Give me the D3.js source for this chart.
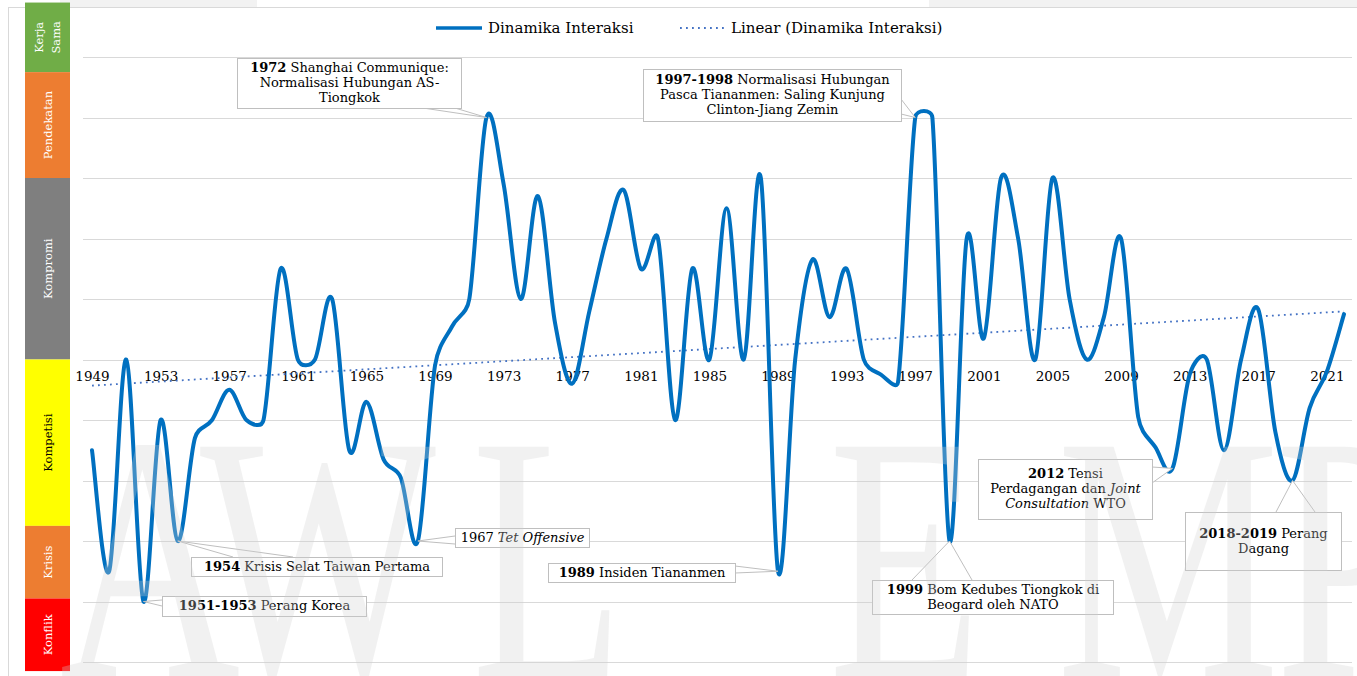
<!DOCTYPE html>
<html>
<head>
<meta charset="utf-8">
<script src="https://cdn.jsdelivr.net/npm/d3@7"></script>
<style>
  html, body { margin: 0; padding: 0; background: #fff; }
  svg { display: block; font-family: "DejaVu Serif", serif; }
</style>
</head>
<body>
<svg id="chart" width="1357" height="676"></svg>
<script>
// ---- data -------------------------------------------------------------
const years = d3.range(1949, 2023);
const interaction = [
  -1.5, -3.5, 0, -4, -1, -3, -1.3, -1, -0.5, -1,      // 1949-1958
  -1, 1.5, 0, 0, 1, -1.5, -0.7, -1.65, -1.95, -3,     // 1959-1968
  -0.1, 0.55, 1, 4, 2.9, 1, 2.7, 0.6, -0.4, 0.8,      // 1969-1978
  2, 2.8, 1.5, 2, -1, 1.5, 0, 2.5, 0, 3,              // 1979-1988
  -3.5, 0, 1.65, 0.7, 1.5, 0, -0.25, -0.37, 4, 4,     // 1989-1998
  -3, 2, 0.35, 3, 2, 0, 3, 1, 0, 0.7,                 // 1999-2008
  2, -0.95, -1.45, -1.8, -0.25, 0, -1.5, 0, 0.83, -1.2, // 2009-2018
  -2, -0.8, -0.2, 0.75                                 // 2019-2022
];
const tickYears = d3.range(1949, 2022, 4);
const levelTicks = d3.range(-5, 6);

// relation levels shown on the left strip (top to bottom) and their limits
const levelNames = [["Kerja", "Sama"], ["Pendekatan"], ["Kompromi"], ["Kompetisi"], ["Krisis"], ["Konflik"]];
const levelEdges = [5.9, 4.75, 3, 0, -2.75, -3.95, -5.15];

// annotated events: the year the callout points at, and its text lines
const eventYears = [1952, 1954, 1968, 1972, 1989, 1997, 1999, 2012, 2019];
const eventTexts = [
  [[{t: "1951-1953", b: 1}, {t: " Perang Korea"}]],
  [[{t: "1954", b: 1}, {t: " Krisis Selat Taiwan Pertama"}]],
  [[{t: "1967 "}, {t: "Tet Offensive", i: 1}]],
  [[{t: "1972", b: 1}, {t: " Shanghai Communique:"}], [{t: "Normalisasi Hubungan AS-"}], [{t: "Tiongkok"}]],
  [[{t: "1989", b: 1}, {t: " Insiden Tiananmen"}]],
  [[{t: "1997-1998", b: 1}, {t: " Normalisasi Hubungan"}], [{t: "Pasca Tiananmen: Saling Kunjung"}], [{t: "Clinton-Jiang Zemin"}]],
  [[{t: "1999", b: 1}, {t: " Bom Kedubes Tiongkok di"}], [{t: "Beogard oleh NATO"}]],
  [[{t: "2012", b: 1}, {t: " Tensi"}], [{t: "Perdagangan dan "}, {t: "Joint", i: 1}], [{t: "Consultation", i: 1}, {t: " WTO"}]],
  [[{t: "2018-2019", b: 1}, {t: " Perang"}], [{t: "Dagang"}]]
];

const seriesName = "Dinamika Interaksi";
const trendName = "Linear (Dinamika Interaksi)";

// ---- layout -----------------------------------------------------------
const svg = d3.select("#chart");
const W = 1357, H = 676;
const lineBlue = "#0070c0", trendBlue = "#4472c4", gridGray = "#d9d9d9";

const x = d3.scalePoint().domain(years).range([92, 1344]);
const y = d3.scaleLinear().domain([-5, 5]).range([662, 57]);

// callout boxes: [left, top, width, height] and the two base points of the pointer
const calloutLayout = {
  1952: {box: [162, 596, 204, 20], base: [[162, 600], [162, 606]]},
  1954: {box: [191, 557, 251, 19], base: [[233, 557], [293, 557]]},
  1968: {box: [455, 528, 134, 19], base: [[455, 536], [455, 544]]},
  1972: {box: [237, 58, 224, 50], base: [[423, 108], [455, 108]]},
  1989: {box: [548, 563, 187, 19], base: [[735, 566], [735, 573]]},
  1997: {box: [643, 69, 258, 52], base: [[901, 99], [901, 114]]},
  1999: {box: [872, 580, 241, 34], base: [[912, 580], [972, 580]]},
  2012: {box: [978, 459, 174, 60], base: [[1152, 467], [1152, 483]]},
  2019: {box: [1185, 512, 156, 58], base: [[1276, 512], [1315, 512]]}
};

// Smoothed line in the spreadsheet style: cubic Bezier segments whose
// control arms follow the neighbouring points (1/6 of the chord), with each
// arm limited to half of its own segment so short steps stay tight.
function smoothPath(P) {
  const p = d3.path();
  const dist = (a, b) => Math.hypot(b[0] - a[0], b[1] - a[1]);
  p.moveTo(P[0][0], P[0][1]);
  for (let i = 0; i < P.length - 1; i++) {
    const p0 = P[Math.max(i - 1, 0)], p1 = P[i], p2 = P[i + 1], p3 = P[Math.min(i + 2, P.length - 1)];
    const d12 = dist(p1, p2), d02 = dist(p0, p2), d13 = dist(p1, p3);
    const f0 = d02 > 0 ? Math.min(1 / 6, d12 / (2 * d02)) : 0;
    const f1 = d13 > 0 ? Math.min(1 / 6, d12 / (2 * d13)) : 0;
    p.bezierCurveTo(
      p1[0] + f0 * (p2[0] - p0[0]), p1[1] + f0 * (p2[1] - p0[1]),
      p2[0] - f1 * (p3[0] - p1[0]), p2[1] - f1 * (p3[1] - p1[1]),
      p2[0], p2[1]);
  }
  return p.toString();
}

// page edge and chart frame
svg.append("rect").attr("x", 60).attr("y", 0).attr("width", 197).attr("height", 7).attr("fill", "#f2f2f2");
svg.append("rect").attr("x", 929).attr("y", 0).attr("width", 428).attr("height", 7).attr("fill", "#f2f2f2");
svg.append("rect").attr("x", 8.5).attr("y", 7.5).attr("width", W).attr("height", H)
  .attr("fill", "#fff").attr("stroke", gridGray);

// gridlines
svg.append("g").selectAll("line").data(levelTicks).join("line")
  .attr("x1", 83).attr("x2", 1352)
  .attr("y1", d => Math.round(y(d)) + 0.5).attr("y2", d => Math.round(y(d)) + 0.5)
  .attr("stroke", gridGray).attr("stroke-width", 1);

// level strip on the left
const levelFill = ["#70ad47", "#ed7d31", "#7f7f7f", "#ffff00", "#ed7d31", "#ff0000"];
const levelInk = ["#fff", "#fff", "#fff", "#000", "#fff", "#fff"];
const strip = svg.append("g");
levelNames.forEach((name, i) => {
  const top = y(levelEdges[i]), bottom = y(levelEdges[i + 1]);
  strip.append("rect").attr("x", 25).attr("y", top).attr("width", 45).attr("height", bottom - top)
    .attr("fill", levelFill[i]);
  const cy = (top + bottom) / 2;
  name.forEach((ln, j) => {
    const cx = 47.5 + (j - (name.length - 1) / 2) * 17;
    strip.append("text")
      .attr("transform", `translate(${cx},${cy}) rotate(-90)`)
      .attr("text-anchor", "middle").attr("dominant-baseline", "central")
      .attr("font-size", 11.5).attr("fill", levelInk[i]).text(ln);
  });
});

// category axis
const axis = svg.append("g").attr("transform", `translate(0,${y(0)})`)
  .call(d3.axisBottom(x).tickValues(tickYears).tickSize(0).tickPadding(12));
axis.select(".domain").remove();
axis.selectAll("text").attr("font-size", 13.5).attr("fill", "#000")
  .attr("font-family", "\"DejaVu Serif\", serif");

// linear trend (least squares over the series)
const pts = years.map((yr, i) => ({year: yr, value: interaction[i]}));
const n = pts.length;
const xi = d3.range(n);
const mx = d3.mean(xi), my = d3.mean(interaction);
const slope = d3.sum(xi, i => (i - mx) * (interaction[i] - my)) / d3.sum(xi, i => (i - mx) ** 2);
const icpt = my - slope * mx;
const trend = [0, n - 1].map(i => ({year: years[i], value: icpt + slope * i}));

svg.append("path").datum(trend)
  .attr("d", d3.line().x(d => x(d.year)).y(d => y(d.value)))
  .attr("fill", "none").attr("stroke", trendBlue).attr("stroke-width", 1.8)
  .attr("stroke-dasharray", "1.8 4.2");

// main series, smoothed
svg.append("path")
  .attr("d", smoothPath(pts.map(d => [x(d.year), y(d.value)])))
  .attr("fill", "none").attr("stroke", lineBlue).attr("stroke-width", 4)
  .attr("stroke-linejoin", "round").attr("stroke-linecap", "round");

// callouts
const callouts = svg.append("g");
eventYears.forEach((yr, k) => {
  const L = calloutLayout[yr];
  const [bx, by, bw, bh] = L.box;
  const ax = x(yr), ay = y(interaction[years.indexOf(yr)]);
  callouts.append("path")
    .attr("d", `M${L.base[0][0]},${L.base[0][1]}L${ax},${ay}L${L.base[1][0]},${L.base[1][1]}`)
    .attr("fill", "#fff").attr("stroke", "#bfbfbf").attr("stroke-width", 1);
  callouts.append("rect").attr("x", bx + 0.5).attr("y", by + 0.5).attr("width", bw).attr("height", bh)
    .attr("fill", "#fff").attr("stroke", "#bfbfbf").attr("stroke-width", 1);
  const lines = eventTexts[k];
  const lh = 15;
  const firstBase = by + (bh - lines.length * lh) / 2 + 11.5;
  lines.forEach((segs, j) => {
    const t = callouts.append("text")
      .attr("x", bx + bw / 2 + 0.5).attr("y", firstBase + j * lh)
      .attr("text-anchor", "middle").attr("font-size", 13).attr("fill", "#000");
    segs.forEach(s => {
      t.append("tspan").text(s.t)
        .attr("font-weight", s.b ? "bold" : null)
        .attr("font-style", s.i ? "italic" : null);
    });
  });
});

// legend
const legend = svg.append("g").attr("font-size", 15);
legend.append("line").attr("x1", 436).attr("x2", 482).attr("y1", 28).attr("y2", 28)
  .attr("stroke", lineBlue).attr("stroke-width", 3.5);
legend.append("text").attr("x", 488).attr("y", 33).attr("fill", "#000").text(seriesName);
legend.append("line").attr("x1", 680).attr("x2", 725).attr("y1", 28).attr("y2", 28)
  .attr("stroke", trendBlue).attr("stroke-width", 1.8).attr("stroke-dasharray", "1.8 4.2");
legend.append("text").attr("x", 731).attr("y", 33).attr("fill", "#000").text(trendName);

// faint document watermark across the lower half
const mark = svg.append("g").attr("fill", "#cfcfcf").attr("fill-opacity", 0.3)
  .attr("font-family", "\"Liberation Serif\", serif").attr("font-size", 250);
[["A", 150], ["W", 318], ["L", 548], ["E", 905], ["M", 1168], ["P", 1345]].forEach(([ch, cx]) => {
  mark.append("text").attr("transform", `translate(${cx},676) scale(1,1.4)`)
    .attr("text-anchor", "middle").text(ch);
});
</script>
</body>
</html>
